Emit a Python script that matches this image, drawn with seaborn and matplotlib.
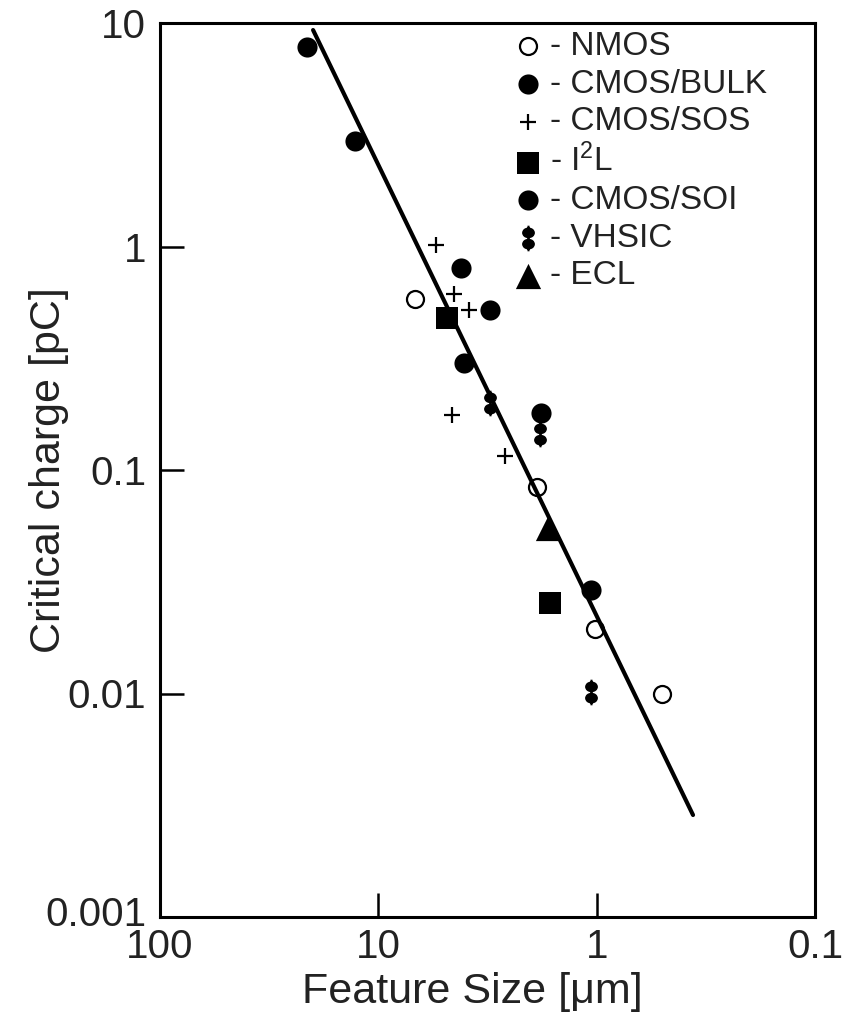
import numpy as np
import pandas as pd
import matplotlib
matplotlib.use("Agg")
import matplotlib.pyplot as plt
import seaborn as sns
from matplotlib.path import Path
from matplotlib.markers import MarkerStyle
from matplotlib.transforms import Affine2D, ScaledTranslation

# ---------------- data ----------------
nmos_x = [6.8, 1.87, 1.02, 0.50]
nmos_y = [0.58, 0.084, 0.0195, 0.0100]

bulk_x = [21.2, 12.8, 4.2, 4.05, 1.06]
bulk_y = [7.8, 2.95, 0.80, 0.30, 0.029]

sos_x = [5.44, 4.5, 3.84, 4.59, 2.63]
sos_y = [1.02, 0.61, 0.52, 0.176, 0.116]

i2l_x = [4.84, 1.63]
i2l_y = [0.48, 0.0255]

soi_x = [3.08, 1.80]
soi_y = [0.52, 0.18]

vhsic_x = [3.08, 1.82, 1.06]
vhsic_y = [0.20, 0.145, 0.0102]

ecl_x = [1.67]
ecl_y = [0.055]

fit_x = [19.9, 0.362]
fit_y = [9.3, 0.00286]

x_ticks = [100, 10, 1, 0.1]
x_tick_labels = ["100", "10", "1", "0.1"]
y_ticks = [0.001, 0.01, 0.1, 1, 10]
y_tick_labels = ["0.001", "0.01", "0.1", "1", "10"]

labels = ["- NMOS", "- CMOS/BULK", "- CMOS/SOS", "- I$^2$L",
          "- CMOS/SOI", "- VHSIC", "- ECL"]

# ---------------- style ----------------
sns.set_theme(style="white")
plt.rcParams["font.family"] = ["Liberation Sans", "DejaVu Sans"]
plt.rcParams["mathtext.fontset"] = "custom"
plt.rcParams["mathtext.rm"] = "Liberation Sans"
plt.rcParams["mathtext.default"] = "regular"

W, H = 855, 1015
fig = plt.figure(figsize=(W / 100, H / 100), dpi=100)
ax = fig.add_axes([160 / W, 1 - 917 / H, (815 - 160) / W, (917 - 23) / H])

# custom VHSIC marker: two stacked blobs on a thin stem
def ellipse(cy, rx, ry):
    c = Path.unit_circle()
    v = Affine2D().scale(rx, ry).translate(0, cy).transform(c.vertices)
    return Path(v, c.codes)

stem = Path([(-0.04, -0.5), (0.04, -0.5), (0.04, 0.5), (-0.04, 0.5), (-0.04, -0.5)],
            [Path.MOVETO, Path.LINETO, Path.LINETO, Path.LINETO, Path.CLOSEPOLY])
vhsic_marker = Path.make_compound_path(ellipse(0.22, 0.25, 0.21), ellipse(-0.22, 0.25, 0.21), stem)

# ---------------- draw ----------------
df_fit = pd.DataFrame({"x": fit_x, "y": fit_y})
sns.lineplot(data=df_fit, x="x", y="y", ax=ax, color="black", linewidth=3.0,
             solid_capstyle="round", zorder=4, sort=False)

sns.scatterplot(x=nmos_x, y=nmos_y, ax=ax, marker="o", s=150, color="white",
                edgecolor="black", linewidth=1.6, label=labels[0], zorder=3)
sns.scatterplot(x=bulk_x, y=bulk_y, ax=ax, marker="o", s=210, color="black",
                edgecolor="black", linewidth=0, label=labels[1], zorder=3)
sns.scatterplot(x=sos_x, y=sos_y, ax=ax, marker="+", s=120, color="black",
                edgecolor="black", linewidth=1.6, label=labels[2], zorder=3)
sns.scatterplot(x=i2l_x, y=i2l_y, ax=ax, marker="s", s=270, color="black",
                edgecolor="black", linewidth=0, label=labels[3], zorder=3)
sns.scatterplot(x=soi_x, y=soi_y, ax=ax, marker="o", s=210, color="black",
                edgecolor="black", linewidth=0, label=labels[4], zorder=3)
sns.scatterplot(x=vhsic_x, y=vhsic_y, ax=ax, marker=MarkerStyle(vhsic_marker), s=340,
                color="black", edgecolor="black", linewidth=0, label=labels[5], zorder=3)
sns.scatterplot(x=ecl_x, y=ecl_y, ax=ax, marker="^", s=330, color="black",
                edgecolor="black", linewidth=0, label=labels[6], zorder=3)

ax.set_xscale("log")
ax.set_yscale("log")
ax.set_xlim(100, 0.1)
ax.set_ylim(0.001, 10)
ax.set_xticks(x_ticks)
ax.set_xticklabels(x_tick_labels)
ax.set_yticks(y_ticks)
ax.set_yticklabels(y_tick_labels)
ax.minorticks_off()

ax.tick_params(axis="both", which="major", direction="in", length=17, width=1.8,
               labelsize=29, colors="black", labelcolor="#222222")
ax.tick_params(axis="x", pad=8)
ax.tick_params(axis="y", pad=10)
ax.tick_params(top=False, right=False, bottom=True, left=True)

# lowest y label sits slightly above its tick, as in the reference
lbl = ax.get_yticklabels()[0]
lbl.set_transform(lbl.get_transform() + ScaledTranslation(0, 4 / 72, fig.dpi_scale_trans))

for sp in ax.spines.values():
    sp.set_linewidth(2.2)
    sp.set_color("black")

ax.set_xlabel("Feature Size [\u03bcm]", fontsize=31, color="#222222")
ax.set_ylabel("Critical charge [pC]", fontsize=31, color="#222222")
ax.xaxis.set_label_coords((472 - 160) / 655, (917 - 972) / 894)
ax.yaxis.set_label_coords((69 - 160) / 655, 0.5)

leg = ax.legend(loc="upper left", bbox_to_anchor=(508 / W, 1 - 31 / H),
                bbox_transform=fig.transFigure, frameon=False, fontsize=24,
                borderpad=0, handlelength=1.2, handletextpad=0.05,
                labelspacing=0.2, scatterpoints=1, borderaxespad=0)
for t in leg.get_texts():
    t.set_color("#222222")

fig.savefig("out.png", dpi=100, facecolor="white")
